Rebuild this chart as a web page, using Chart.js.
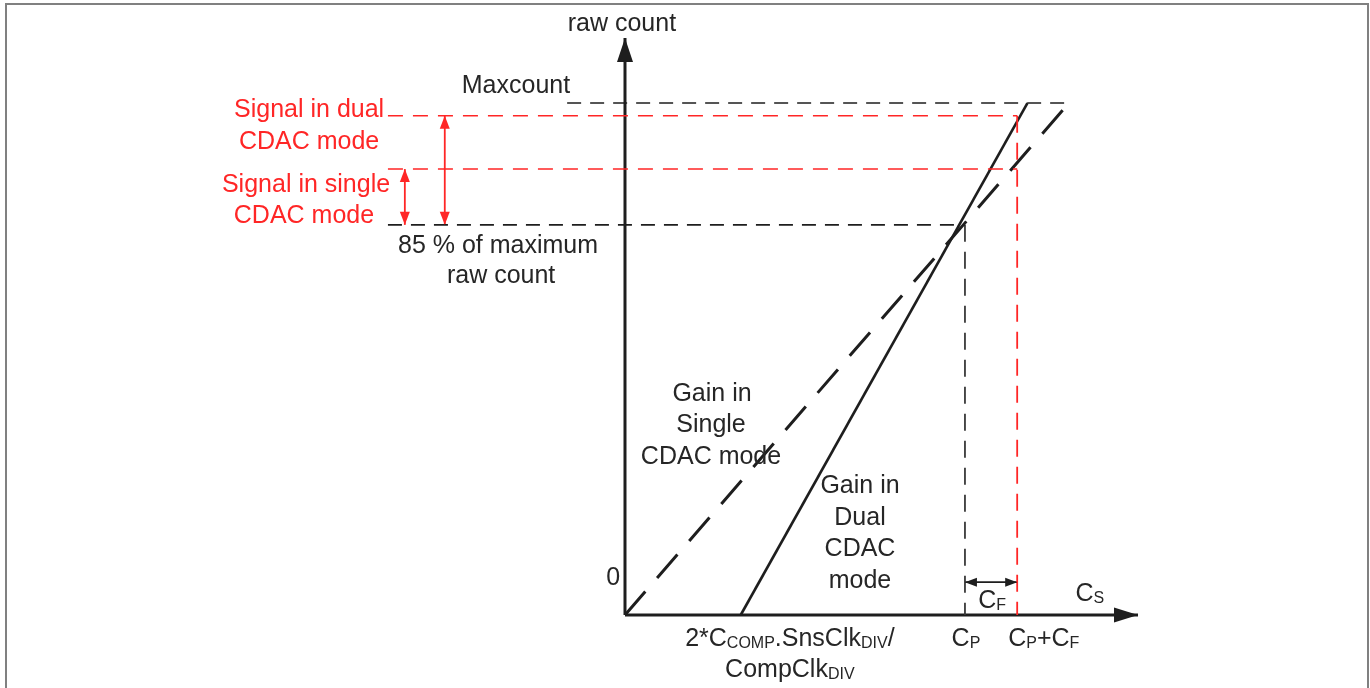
<!DOCTYPE html>
<html>
<head>
<meta charset="utf-8">
<script src="https://cdn.jsdelivr.net/npm/chart.js@4.4.1/dist/chart.umd.min.js"></script>
<style>
    html, body { margin: 0; padding: 0; background: #fff; overflow: hidden; }
    #wrap { position: relative; width: 1370px; height: 688px; }
    #frame {
        position: absolute; left: 5px; top: 3px; width: 1360px; height: 720px;
        border: 2px solid #808080; border-bottom: none; pointer-events: none;
    }
</style>
</head>
<body>
<div id="wrap">
    <canvas id="gainChart" width="1370" height="688"></canvas>
    <div id="frame"></div>
</div>
<script>
// Values (raw count: Maxcount = 100, Cs in arbitrary units)
const singleCs = [0, 85.5];
const singleCount = [0, 98.6];
const dualCs = [22.6, 78.6];
const dualCount = [0, 100];

const maxcount = 100;
const dualSignal = 97.5;
const singleSignal = 87.1;
const threshold = 76.2;

const cpValue = 66.4;
const cpcfValue = 76.6;

const levelStartCs = -46.3;
const maxcountCs = [-11.3, 87.5];
const axisCsEnd = 100.2;
const axisCountEnd = 112.7;

const dualArrowCs = -35.2;
const singleArrowCs = -43.0;
const cfArrowCount = 6.4;

const INK = '#1e1e1e';
const RED = 'rgb(255, 38, 38)';
const FONT = '"Liberation Sans", Arial, sans-serif';

function pts(xs, ys) {
    return xs.map((x, i) => ({ x: x, y: ys[i] }));
}

// text annotations: segments are [text, isSubscript]
const labels = [
    { x: -0.6, y: 115.8, segs: [['raw count', 0]] },
    { x: -21.3, y: 103.7, segs: [['Maxcount', 0]] },
    { x: -61.7, y: 99.0, segs: [['Signal in dual', 0]], color: RED },
    { x: -61.7, y: 92.8, segs: [['CDAC mode', 0]], color: RED },
    { x: -62.3, y: 84.4, segs: [['Signal in single', 0]], color: RED },
    { x: -62.7, y: 78.3, segs: [['CDAC mode', 0]], color: RED },
    { x: -24.8, y: 72.5, segs: [['85 % of maximum', 0]] },
    { x: -24.2, y: 66.6, segs: [['raw count', 0]] },
    { x: 17.0, y: 43.6, segs: [['Gain in', 0]] },
    { x: 16.8, y: 37.5, segs: [['Single', 0]] },
    { x: 16.8, y: 31.3, segs: [['CDAC mode', 0]] },
    { x: 45.9, y: 25.6, segs: [['Gain in', 0]] },
    { x: 45.9, y: 19.4, segs: [['Dual', 0]] },
    { x: 45.9, y: 13.2, segs: [['CDAC', 0]] },
    { x: 45.9, y: 7.1, segs: [['mode', 0]] },
    { x: -2.3, y: 7.6, segs: [['0', 0]] },
    { x: 90.8, y: 4.5, segs: [['C', 0], ['S', 1]] },
    { x: 71.7, y: 3.1, segs: [['C', 0], ['F', 1]] },
    { x: 32.2, y: -4.3, segs: [['2*C', 0], ['COMP', 1], ['.SnsClk', 0], ['DIV', 1], ['/', 0]] },
    { x: 32.2, y: -10.4, segs: [['CompClk', 0], ['DIV', 1]] },
    { x: 66.6, y: -4.3, segs: [['C', 0], ['P', 1]] },
    { x: 81.8, y: -4.3, segs: [['C', 0], ['P', 1], ['+C', 0], ['F', 1]] }
];

function lineSet(data, color, width, dash, arrow) {
    return {
        data: data,
        showLine: true,
        borderColor: color,
        backgroundColor: color,
        borderWidth: width,
        borderDash: dash || [],
        pointRadius: 0,
        fill: false,
        tension: 0,
        clip: false,
        arrow: arrow || null
    };
}

const arrowPlugin = {
    id: 'arrowHeads',
    afterDatasetsDraw(chart) {
        const ctx = chart.ctx;
        chart.data.datasets.forEach((ds, i) => {
            if (!ds.arrow) return;
            const pts = chart.getDatasetMeta(i).data;
            const a = pts[0], b = pts[pts.length - 1];
            const heads = [];
            if (ds.arrow.end) heads.push([a, b]);
            if (ds.arrow.start) heads.push([b, a]);
            heads.forEach(([from, tip]) => {
                const ang = Math.atan2(tip.y - from.y, tip.x - from.x);
                const len = ds.arrow.len, w = ds.arrow.width / 2;
                ctx.save();
                ctx.translate(tip.x, tip.y);
                ctx.rotate(ang);
                ctx.beginPath();
                ctx.moveTo(0, 0);
                ctx.lineTo(-len, -w);
                ctx.lineTo(-len, w);
                ctx.closePath();
                ctx.fillStyle = ds.borderColor;
                ctx.fill();
                ctx.restore();
            });
        });
    }
};

const labelPlugin = {
    id: 'diagramLabels',
    afterDraw(chart) {
        const ctx = chart.ctx;
        const xs = chart.scales.x, ys = chart.scales.y;
        ctx.save();
        ctx.textBaseline = 'alphabetic';
        labels.forEach(l => {
            const cx = xs.getPixelForValue(l.x);
            const cy = ys.getPixelForValue(l.y);
            let total = 0;
            l.segs.forEach(s => {
                ctx.font = (s[1] ? '16px ' : '25px ') + FONT;
                total += ctx.measureText(s[0]).width;
            });
            let x = cx - total / 2;
            ctx.fillStyle = l.color || '#262626';
            l.segs.forEach(s => {
                ctx.font = (s[1] ? '16px ' : '25px ') + FONT;
                ctx.fillText(s[0], x, cy + 9 + (s[1] ? 2 : 0));
                x += ctx.measureText(s[0]).width;
            });
        });
        ctx.restore();
    }
};

new Chart(document.getElementById('gainChart'), {
    type: 'scatter',
    data: {
        datasets: [
            // reference levels
            lineSet(pts(maxcountCs, [maxcount, maxcount]), INK, 1.6, [14, 9]),
            lineSet(pts([levelStartCs, cpcfValue], [dualSignal, dualSignal]), RED, 1.6, [15, 10]),
            lineSet(pts([levelStartCs, cpcfValue], [singleSignal, singleSignal]), RED, 1.6, [15, 10]),
            lineSet(pts([levelStartCs, cpValue], [threshold, threshold]), INK, 1.6, [14, 9]),
            lineSet(pts([cpValue, cpValue], [threshold, 0]), '#3a3a3a', 1.8, [17, 10]),
            lineSet(pts([cpcfValue, cpcfValue], [dualSignal, 0]), RED, 1.8, [17, 10]),
            // gain curves
            lineSet(pts(singleCs, singleCount), INK, 3, [31, 18]),
            lineSet(pts(dualCs, dualCount), INK, 2.6),
            // axes
            lineSet(pts([0, 0], [0, axisCountEnd]), INK, 3, null, { end: true, len: 24, width: 16 }),
            lineSet(pts([0, axisCsEnd], [0, 0]), INK, 3, null, { end: true, len: 24, width: 15 }),
            // signal arrows
            lineSet(pts([singleArrowCs, singleArrowCs], [threshold, singleSignal]), RED, 1.8, null, { end: true, start: true, len: 13, width: 10 }),
            lineSet(pts([dualArrowCs, dualArrowCs], [threshold, dualSignal]), RED, 1.8, null, { end: true, start: true, len: 13, width: 10 }),
            lineSet(pts([cpValue, cpcfValue], [cfArrowCount, cfArrowCount]), INK, 1.8, null, { end: true, start: true, len: 12, width: 9 })
        ]
    },
    options: {
        responsive: false,
        devicePixelRatio: 1,
        animation: false,
        layout: { padding: 0 },
        plugins: {
            legend: { display: false },
            tooltip: { enabled: false }
        },
        scales: {
            x: { type: 'linear', display: false, min: -122.07, max: 145.51 },
            y: { type: 'linear', display: false, min: -14.26, max: 120.12 }
        }
    },
    plugins: [arrowPlugin, labelPlugin]
});
</script>
</body>
</html>
